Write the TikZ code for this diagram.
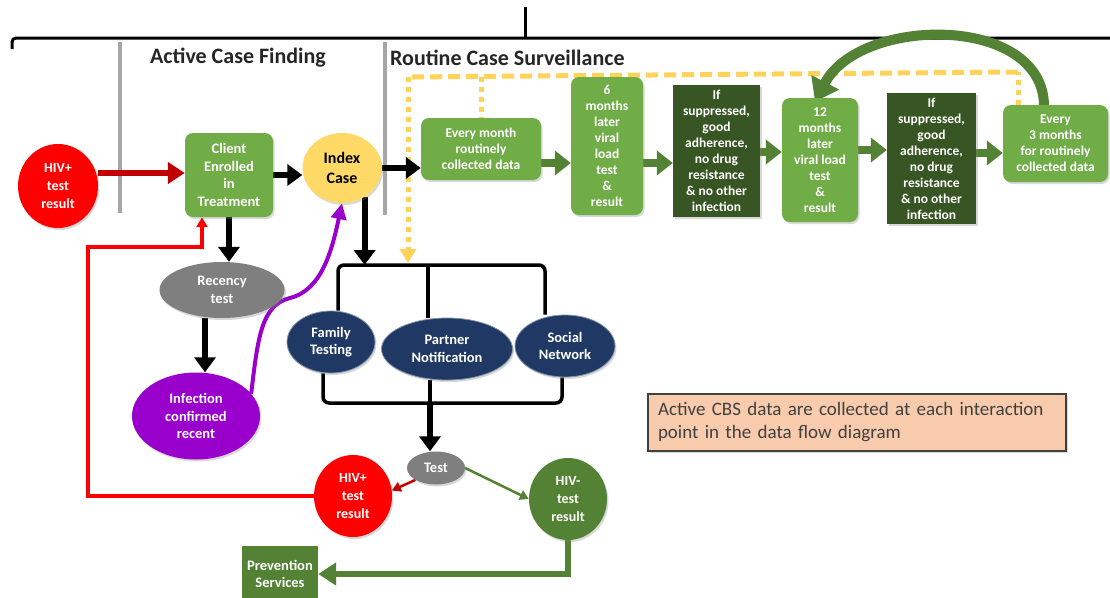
\documentclass[tikz,border=0pt]{standalone}
\usepackage{fontspec}
\setmainfont{Carlito}
\usetikzlibrary{arrows.meta,shapes.geometric,shadows,backgrounds}

\definecolor{hivred}{HTML}{FF0000}
\definecolor{darkred}{HTML}{C00000}
\definecolor{lgreen}{HTML}{70AD47}
\definecolor{mgreen}{HTML}{548235}
\definecolor{dgreen}{HTML}{375623}
\definecolor{navy}{HTML}{1F3864}
\definecolor{purp}{HTML}{9900CC}
\definecolor{ggrey}{HTML}{7F7F7F}
\definecolor{lgrey}{HTML}{A6A6A6}
\definecolor{ylw}{HTML}{FFD966}
\definecolor{ydk}{HTML}{FFD35A}
\definecolor{peach}{HTML}{F8CBAD}
\definecolor{txtgrey}{HTML}{404040}
\definecolor{headtxt}{HTML}{262626}

\begin{document}
\begin{tikzpicture}[x=1pt,y=-1pt,
  shd/.style={drop shadow={shadow xshift=1.5pt,shadow yshift=-2pt,opacity=0.3}},
  wtxt/.style={text=white,font=\fontsize{13.5}{16}\selectfont\bfseries,align=center,inner sep=0pt},
  etxt/.style={text=white,font=\fontsize{14.5}{17.5}\selectfont\bfseries,align=center,inner sep=0pt},
  rbox/.style={wtxt,rectangle,rounded corners=8pt,fill=lgreen,shd},
  dbox/.style={wtxt,rectangle,fill=dgreen,shd},
  ell/.style={etxt,ellipse,shd},
  blk/.style={draw=black,line width=6pt,-{Triangle[length=15pt,width=21pt]}},
  garr/.style={draw=mgreen,line width=8pt,-{Triangle[length=16pt,width=24pt]}},
  brk/.style={draw=black,line width=3.5pt,rounded corners=6pt},
  ydash/.style={draw=ydk,line width=5pt,dash pattern=on 12pt off 6pt},
  ydot/.style={draw=ydk,line width=5pt,dash pattern=on 5pt off 5pt},
  headline/.style={text=headtxt,font=\fontsize{22}{26}\selectfont\bfseries,inner sep=0pt}
]
\useasboundingbox (0,0) rectangle (1110,597);

% headings
\node[headline] (acf) at (238,58) {Active Case Finding};
\node[headline,anchor=west] (rcs) at (390,58) {Routine Case Surveillance};

% nodes
\node[ell,fill=hivred,minimum width=80pt,minimum height=84pt,font=\fontsize{14}{18}\selectfont\bfseries] (hiv1) at (58,186) {HIV+\\test\\result};
\node[rbox,etxt,minimum width=88pt,minimum height=84pt] (client) at (229,175) {Client\\Enrolled\\in\\Treatment};
\node[ell,fill=ylw,text=black,font=\fontsize{16}{20}\selectfont\bfseries,minimum width=79pt,minimum height=70pt] (index) at (342,168) {Index\\Case};
\node[rbox,minimum width=120pt,minimum height=62pt] (evm) at (481,149) {Every month\\routinely\\collected data};
\node[rbox,minimum width=72pt,minimum height=138pt] (six) at (607,146) {6\\months\\later\\viral\\load\\test\\\&\\result};
\node[dbox,minimum width=87pt,minimum height=132pt] (d1) at (716.5,151) {If\\suppressed,\\good\\adherence,\\no drug\\resistance\\\& no other\\infection};
\node[rbox,minimum width=76pt,minimum height=124pt] (twelve) at (820,160) {12\\months\\later\\viral load\\test\\\&\\result};
\node[dbox,minimum width=89pt,minimum height=131pt] (d2) at (931.5,158.5) {If\\suppressed,\\good\\adherence,\\no drug\\resistance\\\& no other\\infection};
\node[rbox,minimum width=105pt,minimum height=77pt] (e3) at (1055.5,143.5) {Every\\3 months\\for routinely\\collected data};

\node[ell,fill=ggrey,minimum width=125pt,minimum height=56pt] (rec) at (222,290) {Recency\\test};
\node[ell,fill=purp,minimum width=128pt,minimum height=87pt] (inf) at (196,416) {Infection\\confirmed\\recent};
\node[ell,fill=navy,draw=navy!55!white,line width=0.8pt,minimum width=88pt,minimum height=62pt] (fam) at (331,342) {Family\\Testing};
\node[ell,fill=navy,draw=navy!55!white,line width=0.8pt,minimum width=131pt,minimum height=62pt] (par) at (447,349) {Partner\\Notification};
\node[ell,fill=navy,draw=navy!55!white,line width=0.8pt,minimum width=100pt,minimum height=62pt] (soc) at (565,346) {Social\\Network};
\node[ell,fill=ggrey,minimum width=58pt,minimum height=33pt] (test) at (436,468) {Test};
\node[ell,fill=hivred,minimum width=78pt,minimum height=82pt,font=\fontsize{14}{18}\selectfont\bfseries] (hiv2) at (353,496) {HIV+\\test\\result};
\node[ell,fill=mgreen,minimum width=78pt,minimum height=82pt,font=\fontsize{14}{18}\selectfont\bfseries] (hivn) at (568,499) {HIV-\\test\\result};
\node[etxt,rectangle,fill=mgreen,minimum width=76pt,minimum height=56pt] (prev) at (280,574) {Prevention\\Services};

\node[draw=txtgrey,fill=peach,line width=1.2pt,text=txtgrey,font=\fontsize{19}{23}\selectfont,align=left,
      minimum width=418pt,minimum height=57pt,inner sep=0pt,text width=398pt,shd] (note) at (857,422.5)
      {Active CBS data are collected at each interaction\\point in the data flow diagram};

% helper coordinates
\coordinate (ya) at (0,173);
\coordinate (yb) at (0,175);
\coordinate (g1) at (0,163);
\coordinate (g2) at (0,152);
\coordinate (g3) at (0,150);
\coordinate (g4) at (0,153);
\coordinate (yd0) at (1018,105);
\coordinate (yd1) at (1018,72);
\coordinate (yd2) at (408,77);
\coordinate (ybr) at (481,76.5);
\coordinate (ytip) at (408,263);
\coordinate (bl) at (338,265);
\coordinate (bm) at (428,265);
\coordinate (br) at (545,265);
\coordinate (ll) at (323,403);
\coordinate (lm) at (430,403);
\coordinate (lr) at (562,403);
\coordinate (rl) at (88,247);
\coordinate (rc) at (202,247);
\coordinate (cv1) at (1044,105);

\begin{pgfonlayer}{background}
\fill[white] (0,0) rectangle (1110,597);
% top bracket and separators
\draw[line width=3pt,rounded corners=4pt,line cap=butt] (12,49) -- (12,38) -- (1112,38);
\draw[line width=3pt] (525,7) -- (525,38);
\draw[lgrey,line width=4.5pt] (120,42) -- (120,213);
\draw[lgrey,line width=4.5pt] (385,42) -- (385,215);

% yellow dashed feedback
\draw[ydot] (yd0) -- (yd1);
\draw[ydash] (yd1) -- (yd2);
\draw[ydot] (ybr) -- (ybr |- evm.north);
\draw[ydot,-{Triangle[length=14pt,width=16pt,fill=ydk]}] (yd2) -- (ytip);

% main flow
\draw[draw=darkred,line width=6.5pt,-{Triangle[length=17pt,width=21pt]}] (hiv1.east |- ya) -- (client.west |- ya);
\draw[blk] (client.east |- yb) -- (index.west |- yb);
\draw[blk] (index.east) -- (evm.west |- index.east);
\draw[garr] (evm.east |- g1) -- (six.west |- g1);
\draw[garr] (six.east |- g1) -- (d1.west |- g1);
\draw[garr] (d1.east |- g2) -- (twelve.west |- g2);
\draw[garr] (twelve.east |- g3) -- (d2.west |- g3);
\draw[garr] (d2.east |- g4) -- (e3.west |- g4);

% big loop back arrow
\draw[draw=mgreen,line width=10pt,-{Triangle[length=22pt,width=30pt]}] (cv1) .. controls (1042,14) and (860,16) .. ([xshift=-5pt,yshift=-4pt]twelve.north);

% active case finding branch
\draw[blk] (client.south) -- (client.south |- rec.north);
\draw[blk] ([xshift=-17pt]rec.south) -- ([xshift=-17pt]rec.south |- inf.north);
\draw[draw=purp,line width=4pt,-{Triangle[length=16pt,width=15pt]}] (inf.22) .. controls (258,335) and (262,305) .. (290,298) .. controls (322,290) and (332,250) .. (index.south);
\draw[blk] (index.-52) -- (index.-52 |- bl);

% upper bracket
\draw[brk] (bl |- fam.north) -- (bl) -- (br) -- (br |- soc.north);
\draw[brk] (bm) -- (bm |- par.north);
% lower bracket
\draw[brk] (ll |- fam.south) -- (ll) -- (lr) -- (lr |- soc.south);
\draw[brk] (lm |- par.south) -- (lm);
\draw[blk] (lm) -- (lm |- test.north);

% test outcomes
\draw[draw=darkred,line width=2.5pt,-{Triangle[length=9pt,width=10pt]}] (test.210) -- (hiv2.8);
\draw[draw=mgreen,line width=2.5pt,-{Triangle[length=9pt,width=10pt]}] (test.east) -- (hivn.west);
\draw[draw=mgreen,line width=6pt,-{Triangle[length=18pt,width=22pt]}] (hivn.south) |- (prev.east);
\draw[draw=hivred,line width=4pt,-{Triangle[length=10pt,width=11pt]}] (hiv2.west) -| (rl) -- (rc) -- (rc |- client.south);
\end{pgfonlayer}
\end{tikzpicture}
\end{document}
